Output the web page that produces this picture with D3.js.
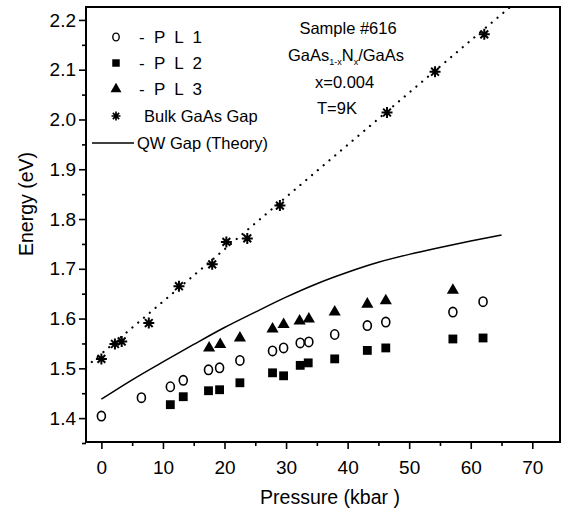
<!DOCTYPE html>
<html>
<head>
<meta charset="utf-8">
<script src="https://cdn.jsdelivr.net/npm/d3@7/dist/d3.min.js"></script>
<style>
  html, body { margin: 0; padding: 0; background: #fff; }
  svg { display: block; }
  text { font-family: "Liberation Sans", Arial, sans-serif; fill: #000; }
</style>
</head>
<body>
<svg id="chart" width="566" height="514"></svg>
<script>
// ---- Data ----
const pl1 = [
  [0, 1.404], [6.5, 1.441], [11.2, 1.463], [13.3, 1.476], [17.4, 1.497], [19.2, 1.501],
  [22.5, 1.516], [27.8, 1.535], [29.6, 1.541], [32.3, 1.551], [33.7, 1.553], [37.9, 1.568],
  [43.2, 1.586], [46.2, 1.593], [57.1, 1.613], [62.0, 1.634]
];
const pl2 = [
  [11.2, 1.427], [13.3, 1.443], [17.4, 1.455], [19.2, 1.457], [22.5, 1.471], [27.8, 1.491],
  [29.6, 1.485], [32.3, 1.506], [33.6, 1.511], [37.9, 1.519], [43.2, 1.536], [46.2, 1.541],
  [57.1, 1.559], [62.0, 1.561]
];
const pl3 = [
  [17.5, 1.541], [19.3, 1.548], [22.5, 1.561], [27.8, 1.579], [29.6, 1.588], [32.2, 1.595],
  [33.7, 1.599], [37.9, 1.613], [43.2, 1.629], [46.2, 1.636], [57.1, 1.657]
];
const bulk = [
  [0, 1.519], [2.2, 1.549], [3.3, 1.554], [7.7, 1.591], [12.6, 1.665], [18.0, 1.709],
  [20.3, 1.754], [23.7, 1.761], [29.0, 1.827], [46.4, 2.014], [54.2, 2.096], [62.2, 2.171]
];
const bulkFit = [[-2.5, 1.503], [66.4, 2.226]];
const qwTheory = [
  [0, 1.438], [5, 1.477], [10, 1.513], [15, 1.548], [20, 1.582], [25, 1.613], [30, 1.643],
  [35, 1.670], [40, 1.693], [45, 1.713], [50, 1.729], [55, 1.743], [60, 1.756], [65, 1.768]
];
const xTicks = [0, 10, 20, 30, 40, 50, 60, 70];
const yTicks = [1.4, 1.5, 1.6, 1.7, 1.8, 1.9, 2.0, 2.1, 2.2];
const legendLabels = ["- P L 1", "- P L 2", "- P L 3", "Bulk GaAs Gap", "QW Gap (Theory)"];

// ---- Layout ----
const svg = d3.select("#chart");
const L = 86, R = 560, T = 7, B = 442;
const x = d3.scaleLinear().domain([-2.5, 74.5]).range([L, R]);
const y = d3.scaleLinear().domain([1.352, 2.226]).range([B, T]);

const clipId = "plotclip";
svg.append("defs").append("clipPath").attr("id", clipId)
  .append("rect").attr("x", L).attr("y", T).attr("width", R - L).attr("height", B - T);

// Axes
const xMinor = d3.range(0, 75, 5).filter(v => v % 10 !== 0);
const yMinor = d3.range(1.35, 2.23, 0.05).map(v => +v.toFixed(2)).filter(v => Math.round(v * 100) % 10 !== 0);

const gx = svg.append("g").attr("transform", `translate(0,${B})`)
  .call(d3.axisBottom(x).tickValues(xTicks).tickFormat(d3.format("d")).tickSize(7).tickPadding(12));
const gxm = svg.append("g").attr("transform", `translate(0,${B})`)
  .call(d3.axisBottom(x).tickValues(xMinor).tickFormat("").tickSize(4));
const gy = svg.append("g").attr("transform", `translate(${L},0)`)
  .call(d3.axisLeft(y).tickValues(yTicks).tickFormat(d3.format(".1f")).tickSize(7).tickPadding(3));
const gym = svg.append("g").attr("transform", `translate(${L},0)`)
  .call(d3.axisLeft(y).tickValues(yMinor).tickFormat("").tickSize(4));

[gx, gxm, gy, gym].forEach(g => {
  g.select(".domain").remove();
  g.selectAll(".tick line").attr("stroke", "#000").attr("stroke-width", 1.6);
  g.selectAll("text").style("font-family", '"Liberation Sans", Arial, sans-serif')
    .style("font-size", "19px").attr("fill", "#000");
});

// Frame
svg.append("rect").attr("x", L).attr("y", T).attr("width", R - L).attr("height", B - T)
  .attr("fill", "none").attr("stroke", "#000").attr("stroke-width", 2);

// Axis titles
svg.append("text").attr("x", 330).attr("y", 504).attr("text-anchor", "middle")
  .style("font-size", "19.5px").text("Pressure (kbar )");
svg.append("text").attr("transform", `translate(33,204) rotate(-90)`).attr("text-anchor", "middle")
  .style("font-size", "19.5px").text("Energy (eV)");

const plot = svg.append("g").attr("clip-path", `url(#${clipId})`);

// Bulk fit dotted line
plot.append("path").datum(bulkFit)
  .attr("d", d3.line().x(d => x(d[0])).y(d => y(d[1])))
  .attr("fill", "none").attr("stroke", "#000").attr("stroke-width", 2.2)
  .attr("stroke-linecap", "round").attr("stroke-dasharray", "0.1,7.5");

// QW theory
plot.append("path").datum(qwTheory)
  .attr("d", d3.line().curve(d3.curveMonotoneX).x(d => x(d[0])).y(d => y(d[1])))
  .attr("fill", "none").attr("stroke", "#000").attr("stroke-width", 1.5);

// Marker helpers
function starPath(r) {
  const p = [];
  for (let i = 0; i < 4; i++) {
    const a = i * Math.PI / 4;
    const dx = r * Math.cos(a), dy = r * Math.sin(a);
    p.push(`M${-dx},${-dy}L${dx},${dy}`);
  }
  return p.join("");
}
const triPath = d3.symbol().type(d3.symbolTriangle).size(64)();
const sqPath = d3.symbol().type(d3.symbolSquare).size(78)();

plot.selectAll(".pl1").data(pl1).join("ellipse")
  .attr("cx", d => x(d[0])).attr("cy", d => y(d[1])).attr("rx", 4).attr("ry", 4.7)
  .attr("fill", "#fff").attr("stroke", "#000").attr("stroke-width", 1.6);
plot.selectAll(".pl2").data(pl2).join("path")
  .attr("transform", d => `translate(${x(d[0])},${y(d[1])})`).attr("d", sqPath).attr("fill", "#000");
plot.selectAll(".pl3").data(pl3).join("path")
  .attr("transform", d => `translate(${x(d[0])},${y(d[1])})`).attr("d", triPath).attr("fill", "#000");
plot.selectAll(".bulk").data(bulk).join("path")
  .attr("transform", d => `translate(${x(d[0])},${y(d[1])})`).attr("d", starPath(5.5))
  .attr("fill", "none").attr("stroke", "#000").attr("stroke-width", 2);

// Legend
const legY = [37, 63, 89, 116, 143];
const lg = svg.append("g");
lg.append("ellipse").attr("cx", 116).attr("cy", legY[0]).attr("rx", 3.2).attr("ry", 3.9)
  .attr("fill", "#fff").attr("stroke", "#000").attr("stroke-width", 1.4);
lg.append("path").attr("transform", `translate(116,${legY[1]})`)
  .attr("d", d3.symbol().type(d3.symbolSquare).size(56)()).attr("fill", "#000");
lg.append("path").attr("transform", `translate(116,${legY[2]})`)
  .attr("d", d3.symbol().type(d3.symbolTriangle).size(52)()).attr("fill", "#000");
lg.append("path").attr("transform", `translate(116,${legY[3]})`).attr("d", starPath(4.5))
  .attr("fill", "none").attr("stroke", "#000").attr("stroke-width", 1.7);
lg.append("line").attr("x1", 92).attr("x2", 134).attr("y1", legY[4]).attr("y2", legY[4])
  .attr("stroke", "#000").attr("stroke-width", 1.3);
legendLabels.forEach((t, i) => {
  const tx = i < 3 ? 139 : (i === 3 ? 144 : 137);
  const el = lg.append("text").attr("x", tx).attr("y", legY[i]).attr("dy", "0.36em")
    .style("font-size", i < 3 ? "17px" : "16.5px").text(t);
  if (i < 3) el.style("letter-spacing", "2.3px");
});

// Annotation
const ann = svg.append("g").style("font-size", "16.5px");
ann.append("text").attr("x", 348).attr("y", 28).attr("dy", "0.36em").attr("text-anchor", "middle").text("Sample #616");
const g2 = ann.append("text").attr("x", 346).attr("y", 55).attr("dy", "0.36em").attr("text-anchor", "middle");
g2.append("tspan").text("GaAs");
g2.append("tspan").attr("dy", "4").style("font-size", "9px").text("1-x");
g2.append("tspan").attr("dy", "-4").text("N");
g2.append("tspan").attr("dy", "4").style("font-size", "9px").text("x");
g2.append("tspan").attr("dy", "-4").text("/GaAs");
ann.append("text").attr("x", 315).attr("y", 82).attr("dy", "0.36em").text("x=0.004");
ann.append("text").attr("x", 317).attr("y", 108).attr("dy", "0.36em").text("T=9K");
</script>
</body>
</html>
